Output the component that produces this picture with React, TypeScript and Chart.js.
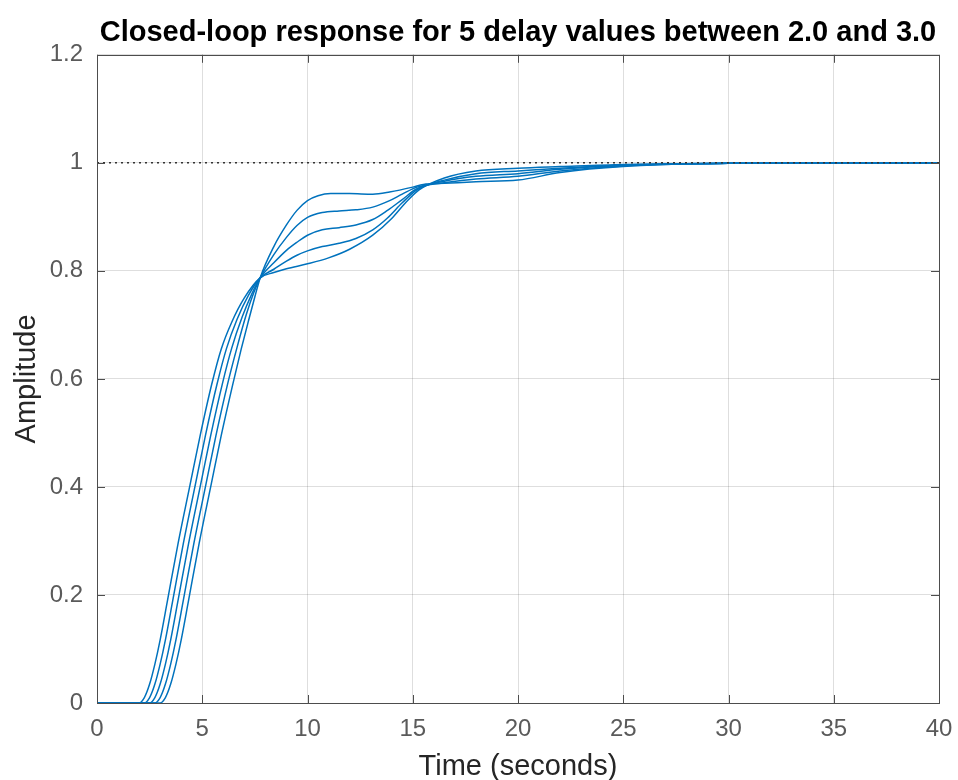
import React, { useEffect, useRef } from "react";
import { Chart, registerables } from "chart.js";

Chart.register(...registerables);

// Step responses for 5 delay values (2.0, 2.25, 2.5, 2.75, 3.0)
const T_A = [0, 2.0, 2.25, 2.5, 2.75, 3.0, 3.35, 3.85, 4.4, 4.9, 5.45, 5.9, 6.4, 7.0, 7.75, 8.4, 9.0, 10, 11, 12, 13.1, 14, 14.7, 15.3, 16.5, 18, 20, 22, 25, 30, 40];
const Y_A = [0, 0, 0.01, 0.035, 0.072, 0.117, 0.19, 0.295, 0.4, 0.495, 0.59, 0.655, 0.705, 0.75, 0.787, 0.797, 0.804, 0.813, 0.824, 0.84, 0.866, 0.897, 0.928, 0.95, 0.972, 0.985, 0.99, 0.993, 0.997, 0.999, 1.0];

const T_B = [0, 2.25, 2.5, 2.75, 3.0, 3.25, 3.6, 4.1, 4.65, 5.15, 5.7, 6.15, 6.65, 7.2, 7.75, 8.4, 9.0, 9.5, 10.0, 10.7, 11.5, 12.3, 13.1, 13.8, 14.5, 15.2, 16.5, 18, 20, 22, 25, 30, 40];
const Y_B = [0, 0, 0.01, 0.035, 0.072, 0.117, 0.19, 0.295, 0.4, 0.495, 0.59, 0.656, 0.71, 0.755, 0.787, 0.803, 0.818, 0.829, 0.837, 0.845, 0.851, 0.86, 0.876, 0.898, 0.926, 0.95, 0.968, 0.98, 0.985, 0.99, 0.996, 0.999, 1.0];

const T_C = [0, 2.5, 2.75, 3.0, 3.25, 3.5, 3.85, 4.35, 4.9, 5.4, 5.95, 6.4, 6.9, 7.35, 7.75, 8.4, 9.0, 9.5, 10.0, 10.7, 11.5, 12.3, 13.1, 13.8, 14.5, 15.2, 16.5, 18, 20, 22, 25, 30, 40];
const Y_C = [0, 0, 0.01, 0.035, 0.072, 0.117, 0.19, 0.295, 0.4, 0.495, 0.59, 0.657, 0.715, 0.757, 0.787, 0.815, 0.838, 0.853, 0.866, 0.876, 0.88, 0.885, 0.895, 0.912, 0.932, 0.952, 0.966, 0.975, 0.98, 0.988, 0.995, 0.999, 1.0];

const T_D = [0, 2.75, 3.0, 3.25, 3.5, 3.75, 4.1, 4.6, 5.15, 5.65, 6.2, 6.65, 7.1, 7.45, 7.75, 8.4, 9.0, 9.5, 10.0, 10.7, 11.5, 12.3, 13.1, 13.9, 14.5, 15.2, 16.5, 18, 20, 22, 25, 30, 40];
const Y_D = [0, 0, 0.01, 0.035, 0.072, 0.117, 0.19, 0.295, 0.4, 0.495, 0.59, 0.658, 0.72, 0.76, 0.787, 0.83, 0.862, 0.884, 0.899, 0.908, 0.911, 0.913, 0.918, 0.93, 0.942, 0.955, 0.963, 0.97, 0.975, 0.985, 0.994, 0.999, 1.0];

const T_E = [0, 3.0, 3.25, 3.5, 3.75, 4.0, 4.35, 4.85, 5.4, 5.9, 6.45, 6.85, 7.2, 7.5, 7.75, 8.4, 9.0, 9.5, 10.0, 10.5, 11.1, 12, 13.1, 13.9, 15, 15.5, 16.5, 18, 20, 22, 25, 30, 40];
const Y_E = [0, 0, 0.01, 0.035, 0.072, 0.117, 0.19, 0.295, 0.4, 0.495, 0.59, 0.655, 0.708, 0.752, 0.787, 0.845, 0.885, 0.912, 0.93, 0.939, 0.943, 0.943, 0.942, 0.946, 0.955, 0.96, 0.962, 0.965, 0.968, 0.982, 0.993, 0.999, 1.0];

const REF_T = [0, 40];
const REF_Y = [1, 1];

const X_MIN = 0, X_MAX = 40, X_STEP = 5;
const Y_MIN = 0, Y_MAX = 1.2, Y_STEP = 0.2;

const TITLE = "Closed-loop response for 5 delay values between 2.0 and 3.0";
const X_LABEL = "Time (seconds)";
const Y_LABEL = "Amplitude";

const FONT = "'Liberation Sans', Arial, Helvetica, sans-serif";
const LINE_COLOR = "#0072BD";

const toPts = (t: number[], y: number[]) => t.map((v, i) => ({ x: v, y: y[i] }));

const framePlugin = {
  id: "matlabFrame",
  afterDatasetsDraw(chart: any) {
    const { ctx, chartArea } = chart;
    const { left, right, top, bottom } = chartArea;
    const xs = chart.scales.x;
    const ys = chart.scales.y;
    ctx.save();
    ctx.strokeStyle = "#4d4d4d";
    ctx.lineWidth = 1;
    ctx.beginPath();
    const L = 8;
    xs.ticks.forEach((tk: any) => {
      const px = Math.round(xs.getPixelForValue(tk.value)) + 0.5;
      ctx.moveTo(px, bottom);
      ctx.lineTo(px, bottom - L);
      ctx.moveTo(px, top);
      ctx.lineTo(px, top + L);
    });
    ys.ticks.forEach((tk: any) => {
      const py = Math.round(ys.getPixelForValue(tk.value)) + 0.5;
      ctx.moveTo(left, py);
      ctx.lineTo(left + L, py);
      ctx.moveTo(right, py);
      ctx.lineTo(right - L, py);
    });
    ctx.stroke();
    ctx.strokeRect(Math.round(left) + 0.5, Math.round(top) + 0.5, Math.round(right - left), Math.round(bottom - top));
    ctx.restore();
  },
};

export default function App() {
  const ref = useRef<HTMLCanvasElement | null>(null);
  useEffect(() => {
    if (!ref.current) return;
    const series = [
      [T_A, Y_A],
      [T_B, Y_B],
      [T_C, Y_C],
      [T_D, Y_D],
      [T_E, Y_E],
    ];
    const datasets: any[] = series.map(([t, y], i) => ({
      label: "d" + i,
      data: toPts(t, y),
      borderColor: LINE_COLOR,
      borderWidth: 1.5,
      pointRadius: 0,
      fill: false,
      cubicInterpolationMode: "monotone",
    }));
    datasets.unshift({
      label: "ref",
      data: toPts(REF_T, REF_Y),
      borderColor: "#333333",
      borderWidth: 1.5,
      borderDash: [2, 4],
      pointRadius: 0,
      fill: false,
    });
    const chart = new Chart(ref.current, {
      type: "line",
      data: { datasets },
      plugins: [framePlugin],
      options: {
        animation: false,
        responsive: false,
        maintainAspectRatio: false,
        layout: { padding: { left: 0, right: 19, top: 0, bottom: 0 } },
        plugins: {
          legend: { display: false },
          tooltip: { enabled: false },
          title: {
            display: true,
            text: TITLE,
            color: "#000000",
            fullSize: false,
            font: { family: FONT, size: 29, weight: "bold" },
            padding: { top: 16, bottom: 4 },
          },
        },
        scales: {
          x: {
            type: "linear",
            min: X_MIN,
            max: X_MAX,
            ticks: { stepSize: X_STEP, color: "#5a5a5a", font: { family: FONT, size: 24 }, padding: 12, maxRotation: 0 },
            grid: { color: "rgba(0,0,0,0.13)", lineWidth: 1, drawTicks: false },
            border: { display: false },
            title: { display: true, text: X_LABEL, color: "#262626", font: { family: FONT, size: 29 }, padding: { top: 0, bottom: -4 } },
            afterFit: (s: any) => { s.height = 77; s.paddingLeft = 0; s.paddingRight = 0; },
          },
          y: {
            type: "linear",
            min: Y_MIN,
            max: Y_MAX,
            ticks: { stepSize: Y_STEP, color: "#5a5a5a", font: { family: FONT, size: 24 }, padding: 14, callback: (v: any) => String(Math.round(Number(v) * 10) / 10) },
            grid: { color: "rgba(0,0,0,0.13)", lineWidth: 1, drawTicks: false },
            border: { display: false },
            title: { display: true, text: Y_LABEL, color: "#262626", font: { family: FONT, size: 29 }, padding: { top: 10, bottom: 10 } },
            afterFit: (s: any) => { s.width = 97; s.paddingTop = 0; s.paddingBottom = 0; },
          },
        },
      },
    });
    return () => chart.destroy();
  }, []);
  return (
    <div style={{ position: "fixed", left: 0, top: 0, width: 958, height: 780, background: "#fff" }}>
      <canvas ref={ref} width={958} height={780} style={{ display: "block" }} />
    </div>
  );
}
